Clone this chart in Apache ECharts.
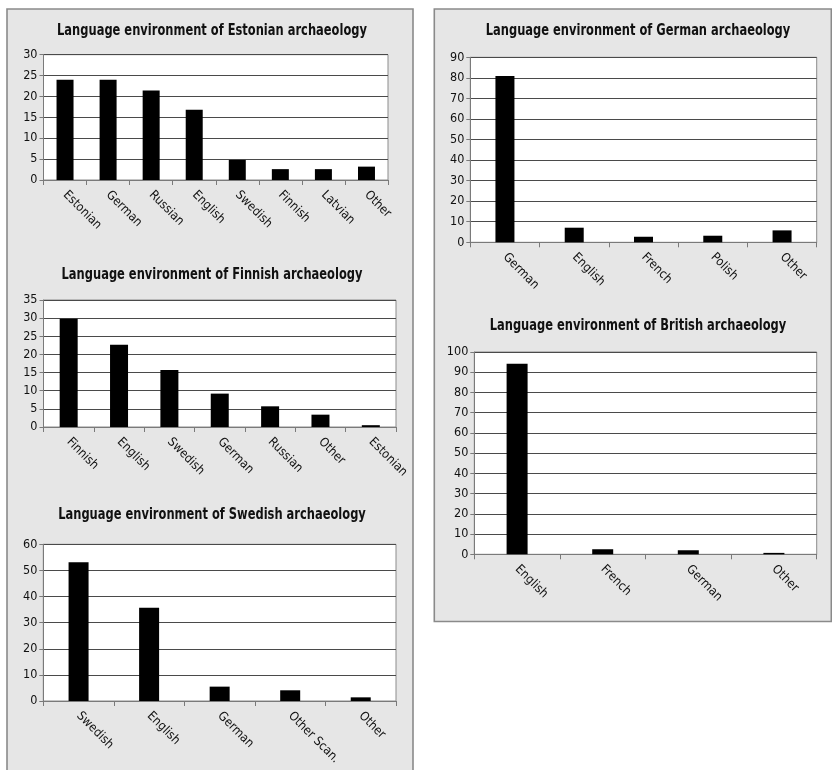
<!DOCTYPE html>
<html>
<head>
<meta charset="utf-8">
<script src="https://cdn.jsdelivr.net/npm/echarts@6/dist/echarts.min.js"></script>
<style>
  html, body { margin: 0; padding: 0; background: #ffffff; }
  #chart { width: 832px; height: 770px; }
</style>
</head>
<body>
<div id="chart"></div>
<script>
// Share of publications by language, per national archaeology
const estonianCategories = ['Estonian', 'German', 'Russian', 'English', 'Swedish', 'Finnish', 'Latvian', 'Other'];
const estonianValues = [24, 24, 21.4, 16.8, 4.8, 2.6, 2.6, 3.2];

const finnishCategories = ['Finnish', 'English', 'Swedish', 'German', 'Russian', 'Other', 'Estonian'];
const finnishValues = [29.8, 22.7, 15.7, 9.2, 5.7, 3.4, 0.5];

const swedishCategories = ['Swedish', 'English', 'German', 'Other Scan.', 'Other'];
const swedishValues = [53.1, 35.7, 5.5, 4.1, 1.4];

const germanCategories = ['German', 'English', 'French', 'Polish', 'Other'];
const germanValues = [80.9, 7.1, 2.7, 3.2, 5.8];

const britishCategories = ['English', 'French', 'German', 'Other'];
const britishValues = [94.2, 2.5, 2.0, 0.7];

// value-axis ranges: [max, interval]
const estonianAxis = [30, 5];
const finnishAxis = [35, 5];
const swedishAxis = [60, 10];
const germanAxis = [90, 10];
const britishAxis = [100, 10];

const FONT = "'Liberation Sans Narrow', 'DejaVu Sans Condensed', 'Arial Narrow', sans-serif";

const panels = [
  { title: 'Language environment of Estonian archaeology', cats: estonianCategories, vals: estonianValues, axis: estonianAxis,
    grid: { left: 43.5, top: 54.7, width: 344.5, height: 125.3 }, titleXY: [212, 31], barWidth: 17 },
  { title: 'Language environment of Finnish archaeology', cats: finnishCategories, vals: finnishValues, axis: finnishAxis,
    grid: { left: 43.5, top: 300, width: 352.5, height: 127 }, titleXY: [212, 275], barWidth: 18 },
  { title: 'Language environment of Swedish archaeology', cats: swedishCategories, vals: swedishValues, axis: swedishAxis,
    grid: { left: 43.3, top: 544.3, width: 352.7, height: 156.7 }, titleXY: [212, 515], barWidth: 20 },
  { title: 'Language environment of German archaeology', cats: germanCategories, vals: germanValues, axis: germanAxis,
    grid: { left: 470.3, top: 57.3, width: 346.4, height: 185 }, titleXY: [638, 31], barWidth: 19 },
  { title: 'Language environment of British archaeology', cats: britishCategories, vals: britishValues, axis: britishAxis,
    grid: { left: 474.3, top: 352, width: 342.4, height: 202.3 }, titleXY: [638, 326], barWidth: 21 }
];

const chart = echarts.init(document.getElementById('chart'), null, { renderer: 'canvas' });

const grids = [], xAxes = [], yAxes = [], series = [];
const graphics = [
  // background panels
  { type: 'rect', z: -10, silent: true, shape: { x: 7, y: 9, width: 406, height: 775 },
    style: { fill: '#e6e6e6', stroke: '#8a8a8a', lineWidth: 1.6 } },
  { type: 'rect', z: -10, silent: true, shape: { x: 434.3, y: 9, width: 397, height: 612.5 },
    style: { fill: '#e6e6e6', stroke: '#8a8a8a', lineWidth: 1.6 } }
];

panels.forEach((p, i) => {
  grids.push(Object.assign({ show: true, backgroundColor: '#ffffff', borderColor: '#8c8c8c', borderWidth: 1 }, p.grid));
  xAxes.push({
    type: 'category', gridIndex: i, data: p.cats,
    axisLine: { show: true, lineStyle: { color: '#7a7a7a', width: 1 } },
    axisTick: { show: true, length: 5, lineStyle: { color: '#7a7a7a' } },
    axisLabel: { rotate: -45, margin: 13, fontFamily: FONT, fontSize: 12.5, color: '#111' },
    splitLine: { show: false }
  });
  yAxes.push({
    type: 'value', gridIndex: i, min: 0, max: p.axis[0], interval: p.axis[1],
    axisLine: { show: true, lineStyle: { color: '#7a7a7a', width: 1 } },
    axisTick: { show: true, length: 4, lineStyle: { color: '#7a7a7a' } },
    axisLabel: { margin: 6, fontFamily: FONT, fontSize: 12.5, color: '#111' },
    splitLine: { show: true, lineStyle: { color: '#4a4a4a', width: 1 } }
  });
  series.push({
    type: 'bar', xAxisIndex: i, yAxisIndex: i, data: p.vals, barWidth: p.barWidth,
    itemStyle: { color: '#000000' }, silent: true, animation: false
  });
  graphics.push({
    type: 'text', silent: true, x: p.titleXY[0], y: p.titleXY[1], scaleX: 0.85,
    style: { text: p.title, fill: '#111', font: 'bold 15px ' + FONT, textAlign: 'center', textVerticalAlign: 'middle' }
  });
});

chart.setOption({
  animation: false,
  backgroundColor: '#ffffff',
  grid: grids,
  xAxis: xAxes,
  yAxis: yAxes,
  series: series,
  graphic: graphics
});
</script>
</body>
</html>
